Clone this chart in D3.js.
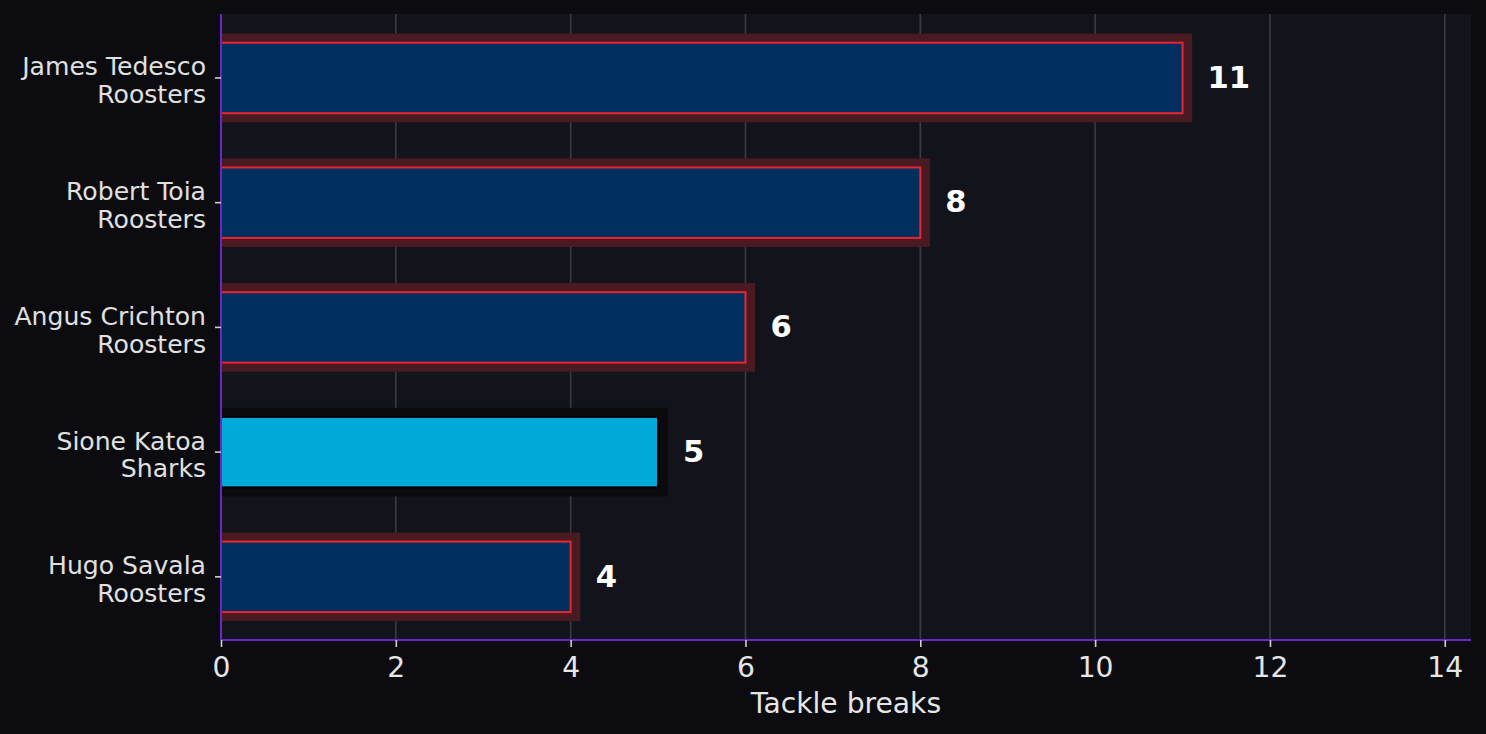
<!DOCTYPE html>
<html>
<head>
<meta charset="utf-8">
<script src="https://cdn.jsdelivr.net/npm/d3@7"></script>
<style>
  html, body { margin: 0; padding: 0; background: #0c0c10; }
  svg { display: block; }
  text { font-family: "DejaVu Sans", sans-serif; }
</style>
</head>
<body>
<svg id="chart" width="1486" height="734"></svg>
<script>
const players = ["James Tedesco", "Robert Toia", "Angus Crichton", "Sione Katoa", "Hugo Savala"];
const teams = ["Roosters", "Roosters", "Roosters", "Sharks", "Roosters"];
const values = [11, 8, 6, 5, 4];
const xTicks = [0, 2, 4, 6, 8, 10, 12, 14];
const xLabel = "Tackle breaks";

const W = 1486, H = 734;
const margin = { left: 221, right: 15, top: 14, bottom: 94 };
const plotW = W - margin.left - margin.right;
const plotH = H - margin.top - margin.bottom;

const svg = d3.select("#chart");
svg.append("rect").attr("width", W).attr("height", H).attr("fill", "#0c0c10");

const g = svg.append("g").attr("transform", `translate(${margin.left},${margin.top})`);

const x = d3.scaleLinear().domain([0, d3.max(values) * 1.3]).range([0, plotW]);
const idx = d3.range(players.length);
const y = d3.scaleBand().domain(idx).range([1.6, plotH - 0.8]).paddingInner(0).paddingOuter(0);
const cy = i => y(i) + y.bandwidth() / 2;
const barH = y.bandwidth() * 0.565;
const shadowH = y.bandwidth() * 0.71;

// plot background
g.append("rect").attr("width", plotW).attr("height", plotH).attr("fill", "#13141b");

// grid
g.append("g").selectAll("line").data(xTicks).join("line")
  .attr("x1", d => x(d)).attr("x2", d => x(d))
  .attr("y1", 0).attr("y2", plotH)
  .attr("stroke", "#3b3c42").attr("stroke-width", 1.6);

const isShark = i => teams[i] === "Sharks";

// shadows
g.append("g").selectAll("rect").data(idx).join("rect")
  .attr("x", x(0))
  .attr("y", i => cy(i) - shadowH / 2)
  .attr("width", i => x(values[i] + 0.11) - x(0))
  .attr("height", shadowH)
  .attr("fill", i => isShark(i) ? "#0b0b0e" : "#4a1a22");

// bars
g.append("g").selectAll("rect").data(idx).join("rect")
  .attr("x", x(0))
  .attr("y", i => cy(i) - barH / 2)
  .attr("width", i => x(values[i]) - x(0))
  .attr("height", barH)
  .attr("fill", i => isShark(i) ? "#00a9d8" : "#002f5f")
  .attr("stroke", i => isShark(i) ? "#000000" : "#e8262f")
  .attr("stroke-width", 2);

// value labels
g.append("g").selectAll("text").data(idx).join("text")
  .attr("x", i => x(values[i]) + 25)
  .attr("y", i => cy(i))
  .attr("dy", "0.32em")
  .attr("fill", "#ffffff")
  .attr("font-weight", "bold")
  .attr("font-size", 30.6)
  .text(i => values[i]);

// spines
g.append("line").attr("x1", 0).attr("x2", 0).attr("y1", 0).attr("y2", plotH)
  .attr("stroke", "#6a26c8").attr("stroke-width", 2);
g.append("line").attr("x1", 0).attr("x2", plotW).attr("y1", plotH).attr("y2", plotH)
  .attr("stroke", "#6a26c8").attr("stroke-width", 2);

// x axis
const xAxis = g.append("g").attr("transform", `translate(0,${plotH})`)
  .call(d3.axisBottom(x).tickValues(xTicks).tickSize(7).tickPadding(6).tickFormat(d3.format("d")));
xAxis.select(".domain").remove();
xAxis.selectAll(".tick line").attr("stroke", "#d0d0d0").attr("stroke-width", 1.6);
xAxis.selectAll(".tick text").attr("fill", "#e6e6e6").attr("font-size", 28.2)
  .attr("font-family", "DejaVu Sans").attr("dy", null).attr("y", 36.7);

g.append("text").attr("x", plotW / 2).attr("y", plotH + 72.7)
  .attr("text-anchor", "middle").attr("fill", "#e6e6e6").attr("font-size", 28.2)
  .text(xLabel);

// y axis
const yAxis = g.append("g")
  .call(d3.axisLeft(y).tickSize(6).tickFormat(() => ""));
yAxis.select(".domain").remove();
yAxis.selectAll(".tick line").attr("stroke", "#d0d0d0").attr("stroke-width", 1.6);

const yl = g.append("g").selectAll("text").data(idx).join("text")
  .attr("text-anchor", "end")
  .attr("fill", "#e0e0e0")
  .attr("font-size", 25.1);
yl.append("tspan").attr("x", -15).attr("y", i => cy(i) - 2.5).text(i => players[i]);
yl.append("tspan").attr("x", -15).attr("y", i => cy(i) + 25.2).text(i => teams[i]);
</script>
</body>
</html>
